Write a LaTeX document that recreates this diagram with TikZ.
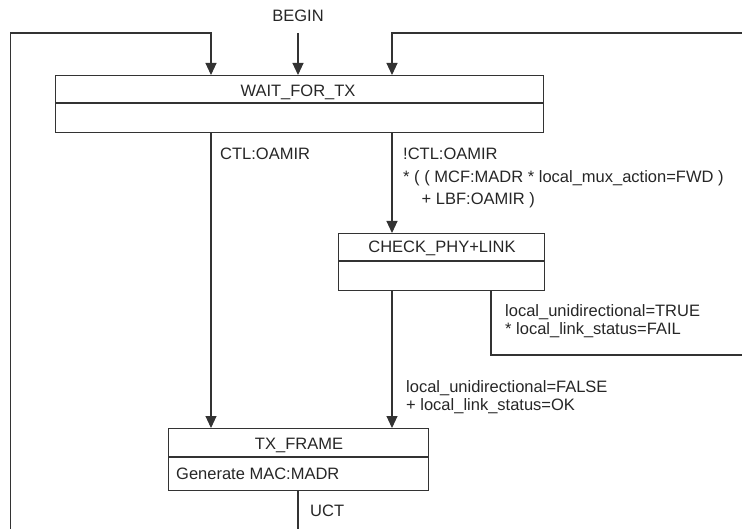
\documentclass[tikz,border=0pt]{standalone}
\usepackage{fontspec}
\setmainfont{Liberation Sans}
\usetikzlibrary{arrows.meta}
\begin{document}
\begin{tikzpicture}[x=1pt,y=-1pt,
  line/.style={draw=black!80,line width=1.1pt},
  arr/.style={line,-{Triangle[length=12pt,width=11pt]}},
  statebox/.style={draw=black!80,line width=1.1pt,inner sep=0pt,anchor=north west},
  txt/.style={inner sep=0pt,font=\fontsize{16.5}{18}\selectfont,text=black!85},
]
\useasboundingbox (0,0) rectangle (742,529);
% state boxes
\node[statebox,minimum width=488pt,minimum height=57pt] (wait) at (55,75) {};
\node[statebox,minimum width=206pt,minimum height=57pt] (check) at (338,233) {};
\node[statebox,minimum width=260pt,minimum height=62pt] (tx) at (168,428) {};
\draw[line] ([yshift=-28pt]wait.north west) -- ([yshift=-28pt]wait.north east);
\draw[line] ([yshift=-28pt]check.north west) -- ([yshift=-28pt]check.north east);
\draw[line] ([yshift=-29pt]tx.north west) -- ([yshift=-29pt]tx.north east);
% titles
\node[txt,anchor=base] (waitT) at (298,96.7) {WAIT\_FOR\_TX};
\node[txt,anchor=base] (checkT) at (442,253) {CHECK\_PHY+LINK};
\node[txt,anchor=base] (txT) at (299,449) {TX\_FRAME};
\node[txt,anchor=base west] (txA) at (176,479) {Generate MAC:MADR};
% helper coordinates
\coordinate (cA) at (211,0);
\coordinate (cC) at (392,0);
\coordinate (cD) at (491,0);
\coordinate (top) at (0,33);
\coordinate (Lin) at (10.5,529);
\coordinate (b0) at (298,33);
\coordinate (Rin) at (742,33);
\coordinate (Rout) at (742,355);
\coordinate (Bout) at (298,529);
% BEGIN
\node[txt,anchor=base] (begin) at (298,22) {BEGIN};
\draw[arr] (b0) -- (wait.north -| b0);
% loops into WAIT_FOR_TX
\draw[arr] (Lin) -- (Lin |- top) -- (top -| cA) -- (wait.north -| cA);
\draw[arr] (Rin) -- (Rin -| cC) -- (wait.north -| cC);
% transitions
\draw[arr] (wait.south -| cA) -- (tx.north -| cA);
\draw[arr] (wait.south -| cC) -- (check.north -| cC);
\draw[arr] (check.south -| cC) -- (tx.north -| cC);
\draw[line] (check.south -| cD) -- (Rout -| cD) -- (Rout);
\draw[line] (tx.south -| Bout) -- (Bout);
% labels
\node[txt,anchor=base west] (l1) at (220,160) {CTL:OAMIR};
\node[txt,anchor=base west] (l2a) at (403,160) {!CTL:OAMIR};
\node[txt,anchor=base west] (l2b) at (403,183) {* ( ( MCF:MADR * local\_mux\_action=FWD )};
\node[txt,anchor=base west] (l2c) at (403,205) {\hspace*{18.5pt}+ LBF:OAMIR )};
\node[txt,anchor=base west] (l3a) at (505,317) {local\_unidirectional=TRUE};
\node[txt,anchor=base west] (l3b) at (505,335) {* local\_link\_status=FAIL};
\node[txt,anchor=base west] (l4a) at (406,392) {local\_unidirectional=FALSE};
\node[txt,anchor=base west] (l4b) at (406,410) {+ local\_link\_status=OK};
\node[txt,anchor=base west] (l5) at (310,516) {UCT};
\end{tikzpicture}
\end{document}
